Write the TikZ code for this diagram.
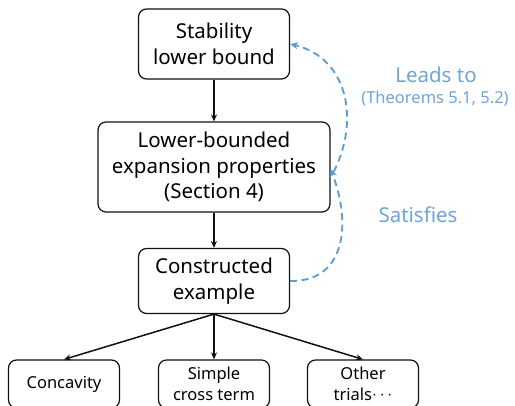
\documentclass[tikz,border=0pt]{standalone}
\usepackage{fontspec}
\setmainfont{Noto Sans}
\usepackage{xcolor}
\usetikzlibrary{positioning,arrows.meta}
\definecolor{ink}{HTML}{111111}
\definecolor{linkc}{HTML}{5B9BD5}
\definecolor{labelc}{HTML}{6FA3DA}

\begin{document}
\begin{tikzpicture}[
  x=1pt, y=-1pt,
  every node/.style={font=\fontsize{20.5}{25.5}\selectfont},
  box/.style={
    rectangle, rounded corners=8pt,
    draw=ink, line width=1.2pt,
    fill=white, align=center, inner sep=3pt
  },
  smallbox/.style={box, font=\fontsize{16.5}{21}\selectfont,
    minimum width=111pt, minimum height=48pt},
  arr/.style={-{Stealth[length=7pt,width=6pt]}, line width=1.5pt, draw=ink},
  linkarr/.style={-{Stealth[length=8pt,width=7pt]}, line width=1.8pt,
    draw=linkc, dash pattern=on 7pt off 4.5pt}
]
\useasboundingbox (0,0) rectangle (515,406);

% Main chain
\node[box, minimum width=151pt, minimum height=70pt] (bound) at (214,44) {Stability\\lower bound};
\node[box, minimum width=232pt, minimum height=90pt] (expand) at (214,167) {Lower-bounded\\expansion properties\\(Section 4)};
\node[box, minimum width=151pt, minimum height=65pt] (example) at (214,281) {Constructed\\example};

% Trials at the bottom
\node[smallbox] (concave) at (64,384) {Concavity};
\node[smallbox] (cross) at (214,384) {Simple\\cross term};
\node[smallbox] (other) at (363,384) {Other\\trials\raisebox{1pt}{$\cdots$}};

\draw[arr] (bound) -- (expand);
\draw[arr] (expand) -- (example);
\draw[arr] (example.south) -- (concave.north);
\draw[arr] (example.south) -- (cross.north);
\draw[arr] (example.south) -- (other.north);

% Dashed links on the right
\draw[linkarr] (example.east) .. controls (345,282) and (352,225) .. ([yshift=-2pt]expand.east);
\draw[linkarr] ([xshift=3pt,yshift=-5pt]expand.east) .. controls (360,120) and (348,58) .. (bound.east);

\node[text=labelc] (leads) at (436,75) {Leads to};
\node[text=labelc, font=\fontsize{16.5}{18}\selectfont] (thm) at (435,99) {(Theorems 5.1, 5.2)};
\node[text=labelc] (sat) at (418,215) {Satisfies};

\end{tikzpicture}
\end{document}
